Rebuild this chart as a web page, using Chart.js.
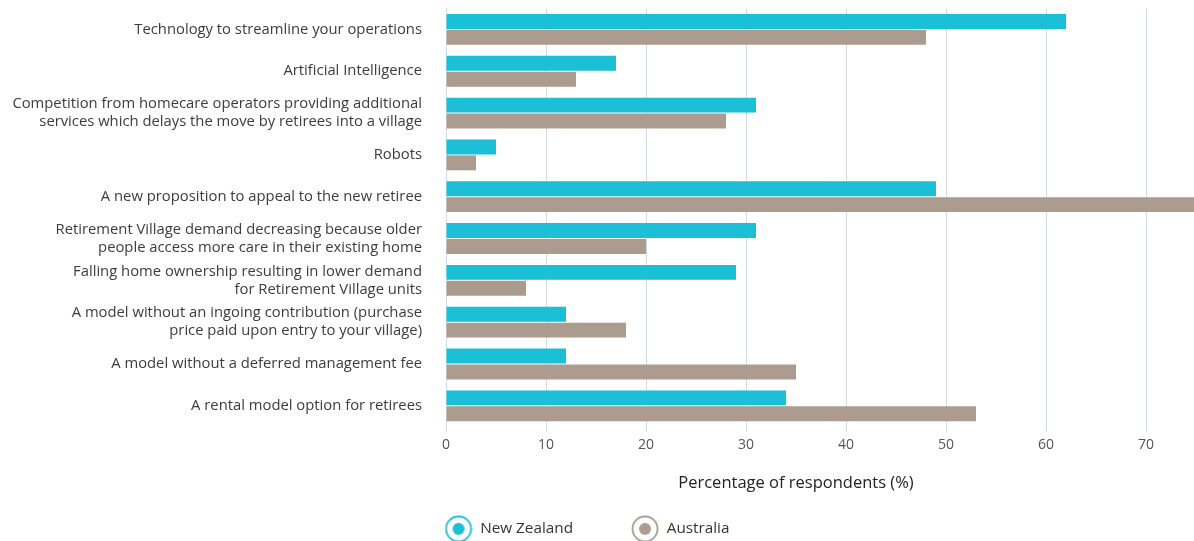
<!DOCTYPE html>
<html>
<head>
<meta charset="utf-8">
<script src="https://cdn.jsdelivr.net/npm/chart.js@4.4.1/dist/chart.umd.min.js"></script>
<style>
  html, body { margin: 0; padding: 0; background: #fff; overflow: hidden; }
  #wrap { width: 1194px; height: 541px; position: relative; }
</style>
</head>
<body>
<div id="wrap"><canvas id="c"></canvas></div>
<script>
// Survey factors (multi-line labels) and share of respondents per country
const categories = [
  ['Technology to streamline your operations'],
  ['Artificial Intelligence'],
  ['Competition from homecare operators providing additional', 'services which delays the move by retirees into a village'],
  ['Robots'],
  ['A new proposition to appeal to the new retiree'],
  ['Retirement Village demand decreasing because older', 'people access more care in their existing home'],
  ['Falling home ownership resulting in lower demand', 'for Retirement Village units'],
  ['A model without an ingoing contribution (purchase', 'price paid upon entry to your village)'],
  ['A model without a deferred management fee'],
  ['A rental model option for retirees']
];
const newZealand = [62, 17, 31, 5, 49, 31, 29, 12, 12, 34];
const australia  = [48, 13, 28, 3, 75, 20, 8, 18, 35, 53];
const xTicks = [0, 10, 20, 30, 40, 50, 60, 70];

const NZ_COLOR = '#1bbfd6';
const AU_COLOR = '#ab9c8f';
const GRID = '#cfdce6';
const FONT = "'Open Sans', 'Noto Sans', sans-serif";

// Legend marker: ring with a filled dot
function ringMarker(color) {
  const s = 28;
  const cv = document.createElement('canvas');
  cv.width = s; cv.height = s;
  const g = cv.getContext('2d');
  g.strokeStyle = color;
  g.lineWidth = 1.8;
  g.beginPath(); g.arc(s / 2, s / 2, 12.5, 0, Math.PI * 2); g.stroke();
  g.fillStyle = color;
  g.beginPath(); g.arc(s / 2, s / 2, 6, 0, Math.PI * 2); g.fill();
  return cv;
}
const markers = [ringMarker(NZ_COLOR), ringMarker(AU_COLOR)];

const LEGEND_GAP = 58;

new Chart(document.getElementById('c'), {
  type: 'bar',
  data: {
    labels: categories,
    datasets: [
      { label: 'New Zealand', data: newZealand, backgroundColor: NZ_COLOR, clip: false },
      { label: 'Australia', data: australia, backgroundColor: AU_COLOR, clip: false }
    ]
  },
  options: {
    indexAxis: 'y',
    responsive: true,
    maintainAspectRatio: false,
    animation: false,
    datasets: { bar: { categoryPercentage: 0.76, barPercentage: 0.94 } },
    layout: { padding: { top: 8.5, right: 48, left: 28, bottom: -5.5 } },
    scales: {
      x: {
        min: 0,
        max: 70,
        afterBuildTicks: s => { s.ticks = xTicks.map(v => ({ value: v })); },
        grid: { color: GRID, lineWidth: 1, drawTicks: true, tickLength: 5, tickColor: GRID },
        border: { display: false },
        ticks: { color: '#555', font: { family: FONT, size: 14 }, padding: 5 },
        title: {
          display: true,
          text: 'Percentage of respondents (%)',
          color: '#222',
          font: { family: FONT, size: 16.5 },
          padding: { top: 0, bottom: -29.5 }
        },
        afterFit: s => { s.height = 36.5; }
      },
      y: {
        grid: { display: false, drawTicks: false },
        border: { display: true, color: GRID },
        ticks: { color: '#3c3c3c', font: { family: FONT, size: 14.8, lineHeight: 1.22 }, padding: 24, autoSkip: false },
        afterFit: s => {
          s.width = 446 - 28;
          s.paddingTop = 0;
          s.paddingBottom = 0;
          // long category names may run past the axis box on the left
          s._computeLabelArea = () => ({ top: 0, left: 0, bottom: s.chart.height, right: s.right });
        }
      }
    },
    plugins: {
      tooltip: { enabled: false },
      legend: {
        position: 'bottom',
        align: 'center',
        labels: {
          usePointStyle: true,
          pointStyleWidth: 28,
          boxHeight: 15.3,
          padding: LEGEND_GAP,
          color: '#333',
          font: { family: FONT, size: 15.3 },
          generateLabels: chart => chart.data.datasets.map((d, i) => ({
            text: d.label,
            pointStyle: markers[i],
            fillStyle: d.backgroundColor,
            strokeStyle: d.backgroundColor,
            fontColor: '#333',
            lineWidth: 0,
            hidden: false,
            datasetIndex: i
          }))
        }
      }
    }
  }
});
</script>
</body>
</html>
